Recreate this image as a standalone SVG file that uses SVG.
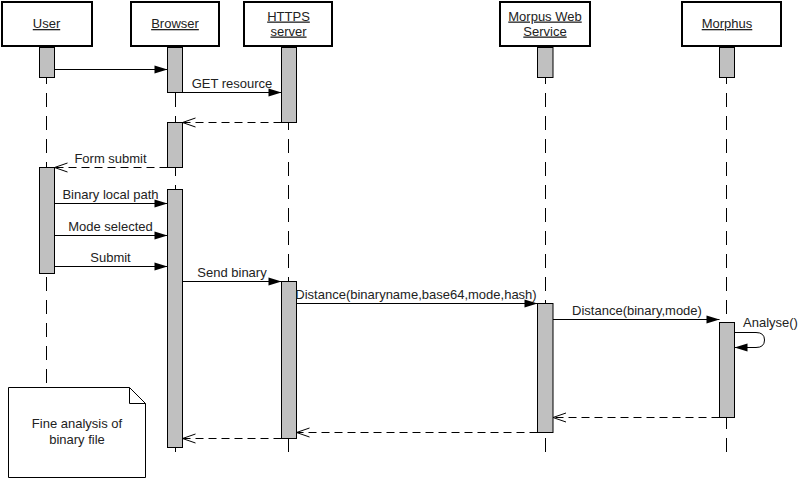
<svg xmlns="http://www.w3.org/2000/svg" width="798" height="478" viewBox="0 0 798 478">
<style>
.hdr{fill:#fff;stroke:#000;stroke-width:2}
.act{fill:#c0c0c0;stroke:#000;stroke-width:1}
.life{stroke:#000;stroke-width:1;stroke-dasharray:14 9;fill:none}
.msg{stroke:#000;stroke-width:1;fill:none}
.ret{stroke:#000;stroke-width:1;stroke-dasharray:8 5;fill:none}
.note{fill:#fff;stroke:#000;stroke-width:1}
text{font-family:"Liberation Sans",Arial,sans-serif;font-size:13px;fill:#222}
.h{text-anchor:middle;text-decoration:underline}
.c{text-anchor:middle}
</style>
<defs>
<marker id="filled" markerUnits="userSpaceOnUse" markerWidth="14" markerHeight="10" refX="13" refY="4.5" orient="auto" overflow="visible">
<path d="M0,0.5 L13,4.5 L0,8.5 Z" fill="#000"/>
</marker>
<marker id="open" markerUnits="userSpaceOnUse" markerWidth="14" markerHeight="10" refX="13" refY="4.5" orient="auto" overflow="visible">
<path d="M0,0 L13,4.5 L0,9" fill="none" stroke="#000" stroke-width="1"/>
</marker>
</defs>
<rect width="798" height="478" fill="#fff"/>

<g id="lifelines">
<line class="life" x1="46.5" y1="47" x2="46.5" y2="383"/>
<line class="life" x1="175.5" y1="47" x2="175.5" y2="455"/>
<line class="life" x1="288.5" y1="47" x2="288.5" y2="455"/>
<line class="life" x1="545.5" y1="47" x2="545.5" y2="455"/>
<line class="life" x1="726.5" y1="47" x2="726.5" y2="455"/>
</g>

<g id="user">
<rect class="hdr" x="2" y="2" width="90" height="44"/>
<text class="h" x="46.5" y="28">User</text>
<rect class="act" x="39.5" y="47.5" width="15" height="30"/>
<rect class="act" x="39.5" y="167.5" width="15" height="106"/>
</g>

<g id="browser">
<rect class="hdr" x="131" y="2" width="88" height="44"/>
<text class="h" x="175" y="28">Browser</text>
<rect class="act" x="167.5" y="47.5" width="15" height="45"/>
<rect class="act" x="167.5" y="122.5" width="15" height="45"/>
<rect class="act" x="167.5" y="189.5" width="15" height="258"/>
</g>

<g id="https">
<rect class="hdr" x="244" y="2" width="88" height="44"/>
<text class="h" x="288.5" y="20.5">HTTPS</text>
<text class="h" x="288.5" y="35.5">server</text>
<rect class="act" x="281.5" y="47.5" width="15" height="75"/>
<rect class="act" x="281.5" y="281.5" width="15" height="157"/>
</g>

<g id="morpus">
<rect class="hdr" x="500" y="2" width="90" height="44"/>
<text class="h" x="545" y="20.5">Morpus Web</text>
<text class="h" x="545" y="35.5">Service</text>
<rect class="act" x="537.5" y="47.5" width="15.5" height="30"/>
<rect class="act" x="537.5" y="303.5" width="15.5" height="129"/>
</g>

<g id="morphus">
<rect class="hdr" x="682" y="2" width="99" height="44"/>
<text class="h" x="727" y="28">Morphus</text>
<rect class="act" x="719.5" y="47.5" width="15" height="30"/>
<rect class="act" x="719.5" y="322.5" width="15" height="95"/>
</g>

<g id="note">
<path class="note" d="M8.5,387.5 H129.5 L145.5,403.5 V477.5 H8.5 Z"/>
<path class="msg" d="M129.5,387.5 V403.5 H145.5"/>
<text class="c" x="77" y="428">Fine analysis of</text>
<text class="c" x="77" y="444">binary file</text>
</g>

<g id="connectors">
<path class="msg" d="M54.5,69.5 H167.5" marker-end="url(#filled)"/>
<path class="msg" d="M182.5,92.5 H281.5" marker-end="url(#filled)"/>
<text class="c" x="232" y="88">GET resource</text>
<path class="ret" d="M281.5,122.5 H182.5" marker-end="url(#open)"/>
<path class="ret" d="M167.5,167.5 H54.5" marker-end="url(#open)"/>
<text class="c" x="110.5" y="163">Form submit</text>
<path class="msg" d="M54.5,203.5 H167.5" marker-end="url(#filled)"/>
<text class="c" x="110.5" y="199">Binary local path</text>
<path class="msg" d="M54.5,235.5 H167.5" marker-end="url(#filled)"/>
<text class="c" x="110.5" y="231">Mode selected</text>
<path class="msg" d="M54.5,266.5 H167.5" marker-end="url(#filled)"/>
<text class="c" x="110.5" y="262">Submit</text>
<path class="msg" d="M182.5,281.5 H281.5" marker-end="url(#filled)"/>
<text class="c" x="232" y="277">Send binary</text>
<path class="msg" d="M296.5,303.5 H537.5" marker-end="url(#filled)"/>
<text class="c" x="416" y="299">Distance(binaryname,base64,mode,hash)</text>
<path class="msg" d="M553,319.5 H719.5" marker-end="url(#filled)"/>
<text class="c" x="637" y="315">Distance(binary,mode)</text>
<path class="msg" d="M734.5,332.5 H756 Q764.5,332.5 764.5,340 Q764.5,347.5 756,347.5 H734.5" marker-end="url(#filled)"/>
<text x="743" y="327">Analyse()</text>
<path class="ret" d="M719.5,417.5 H553" marker-end="url(#open)"/>
<path class="ret" d="M537.5,432.5 H296.5" marker-end="url(#open)"/>
<path class="ret" d="M281.5,438.5 H182.5" marker-end="url(#open)"/>
</g>
</svg>
